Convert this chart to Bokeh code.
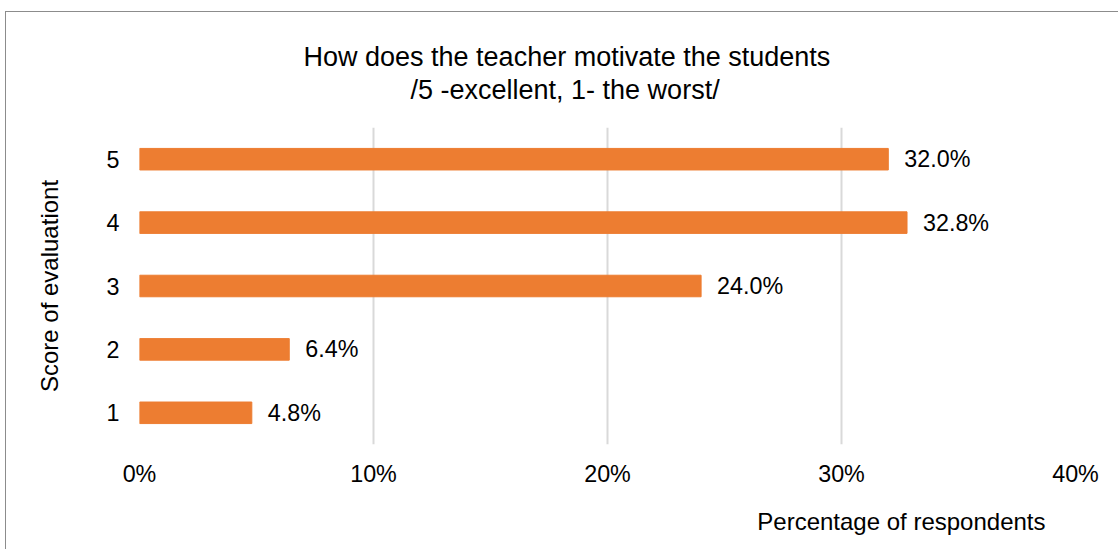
from bokeh.plotting import figure
from bokeh.models import (ColumnDataSource, LabelSet, Title, FixedTicker,
                          NumeralTickFormatter, Range1d)
from bokeh.core.properties import value
from bokeh.embed import file_html
from bokeh.resources import INLINE

categories = ["1", "2", "3", "4", "5"]
values = [0.048, 0.064, 0.240, 0.328, 0.320]
value_labels = ["4.8%", "6.4%", "24.0%", "32.8%", "32.0%"]
x_ticks = [0.0, 0.1, 0.2, 0.3, 0.4]

title_line1 = "How  does the teacher motivate the  students"
title_line2 = "/5 -excellent, 1- the worst/"
x_label = "Percentage of respondents"
y_label = "Score of evaluationt"

FONT = "Liberation Sans"
W, H = 1113, 538

src = ColumnDataSource(dict(cat=categories, val=values, lab=value_labels))

p = figure(width=W, height=H, y_range=categories, x_range=Range1d(0, 0.4),
           output_backend="svg", toolbar_location=None,
           min_border_left=133, min_border_right=44,
           min_border_top=115, min_border_bottom=106)
p.styles = {"border-left": "1px solid #8c8c8c", "border-top": "1px solid #8c8c8c",
            "margin-left": "5px", "margin-top": "11px"}
p.outline_line_color = None
p.background_fill_color = "white"
p.border_fill_color = "white"

p.hbar(y="cat", right="val", left=0, height=0.34, color="#ED7D31", source=src)

labels = LabelSet(x="val", y="cat", text="lab", source=src, x_offset=16,
                  text_baseline="middle", text_font=value(FONT),
                  text_font_size="23.3px", text_color="#000000")
p.add_layout(labels)

p.xaxis.ticker = FixedTicker(ticks=x_ticks)
p.xaxis.formatter = NumeralTickFormatter(format="0%")
for ax in (p.xaxis[0], p.yaxis[0]):
    ax.axis_line_color = None
    ax.major_tick_line_color = None
    ax.minor_tick_line_color = None
    ax.major_label_text_font = FONT
    ax.major_label_text_font_size = "23.3px"
    ax.major_label_text_color = "#000000"
p.xaxis.major_label_standoff = 10
p.yaxis.major_label_standoff = 14
p.yaxis.axis_label = y_label
p.yaxis.axis_label_text_font = FONT
p.yaxis.axis_label_text_font_size = "24px"
p.yaxis.axis_label_text_font_style = "normal"
p.yaxis.axis_label_text_color = "#000000"
p.yaxis.axis_label_standoff = 41

p.ygrid.grid_line_color = None
p.xgrid.grid_line_color = "#d9d9d9"
p.xgrid.grid_line_width = 2

# x axis title, right-aligned under the plot
p.add_layout(Title(text=x_label, align="right", offset=30, standoff=32,
                   text_font=FONT, text_font_size="24px",
                   text_font_style="normal", text_color="#000000"), "below")

# spacer between the plot area and the chart title
p.add_layout(Title(text=" ", text_font_size="10px", standoff=9), "above")
# chart title: second line added first (closest to the plot)
p.add_layout(Title(text=title_line2, align="left", offset=271, standoff=2,
                   text_font=FONT, text_font_size="27px",
                   text_font_style="normal", text_color="#000000"), "above")
p.add_layout(Title(text=title_line1, align="left", offset=164, standoff=0,
                   text_font=FONT, text_font_size="27px",
                   text_font_style="normal", text_color="#000000"), "above")

open("out.html", "w").write(file_html(p, INLINE))
